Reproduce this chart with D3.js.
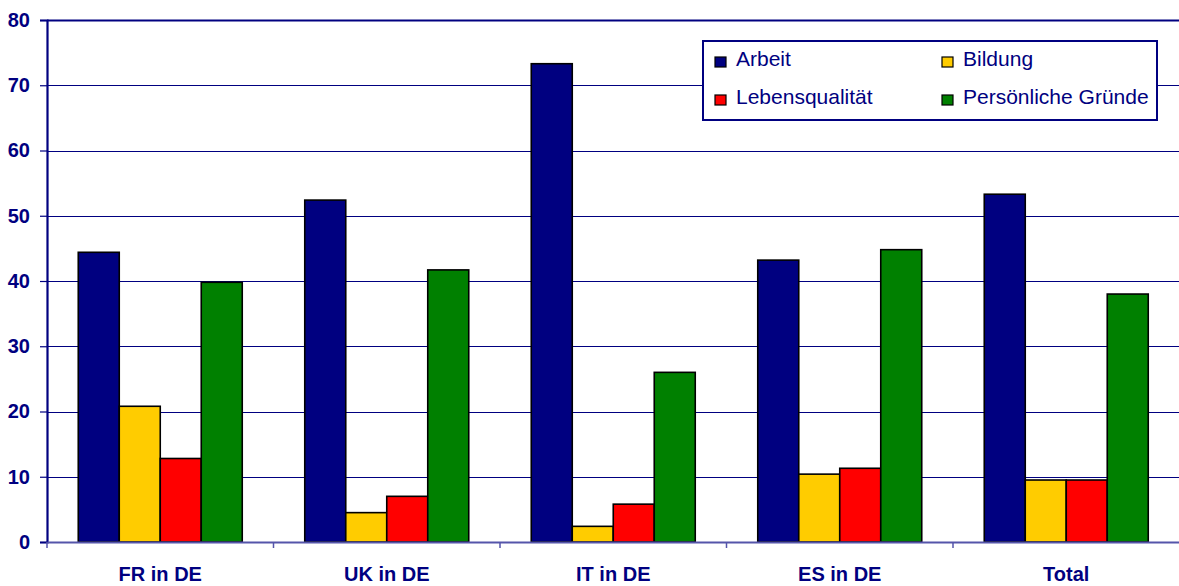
<!DOCTYPE html>
<html>
<head>
<meta charset="utf-8">
<script src="https://cdn.jsdelivr.net/npm/d3@7"></script>
<style>
  html, body { margin: 0; padding: 0; background: #fff; }
  svg { display: block; font-family: "Liberation Sans", Arial, sans-serif; }
</style>
</head>
<body>
<svg id="chart" width="1179" height="586"></svg>
<script>
const categories = ["FR in DE", "UK in DE", "IT in DE", "ES in DE", "Total"];
const seriesNames = ["Arbeit", "Bildung", "Lebensqualität", "Persönliche Gründe"];
const seriesColors = ["#000080", "#FFCC00", "#FF0000", "#008000"];
const arbeit = [44.4, 52.4, 73.3, 43.2, 53.3];
const bildung = [20.8, 4.5, 2.4, 10.4, 9.5];
const lebensqualitaet = [12.8, 7.0, 5.8, 11.3, 9.5];
const persoenlich = [39.8, 41.7, 26.0, 44.8, 38.0];
const yTicks = [0, 10, 20, 30, 40, 50, 60, 70, 80];

const seriesValues = [arbeit, bildung, lebensqualitaet, persoenlich];
const navy = "#000080";

const svg = d3.select("#chart");
const pLeft = 47, pRight = 1179.5, pTop = 20, pBottom = 542;

const y = d3.scaleLinear().domain([0, 80]).range([pBottom, pTop]);
const x = d3.scaleBand().domain(categories).range([pLeft, pRight]).paddingInner(0).paddingOuter(0);
const bw = x.bandwidth();
const groupW = bw * 0.724;
const x1 = d3.scaleBand().domain(seriesNames).range([(bw - groupW) / 2, (bw + groupW) / 2]).padding(0);

// gridlines
svg.append("g").selectAll("line").data(yTicks.filter(d => d > 0)).join("line")
  .attr("x1", pLeft).attr("x2", 1179)
  .attr("y1", d => Math.round(y(d)) + 0.5).attr("y2", d => Math.round(y(d)) + 0.5)
  .attr("stroke", navy).attr("stroke-width", d => d === 80 ? 2 : 1.2);

// bars
const rows = [];
categories.forEach((c, i) => seriesNames.forEach((s, j) => rows.push({ c, s, j, v: seriesValues[j][i] })));
svg.append("g").selectAll("rect").data(rows).join("rect")
  .attr("x", d => x(d.c) + x1(d.s))
  .attr("y", d => y(d.v))
  .attr("width", x1.bandwidth())
  .attr("height", d => y(0) - y(d.v))
  .attr("fill", d => seriesColors[d.j])
  .attr("stroke", "#000").attr("stroke-width", 1.6);

// y axis
const yAxis = d3.axisLeft(y).tickValues(yTicks).tickSize(7).tickPadding(10).tickFormat(d3.format("d"));
const gy = svg.append("g").attr("transform", `translate(${pLeft},0)`).call(yAxis);
gy.select(".domain").attr("stroke", navy).attr("stroke-width", 2.2);
gy.selectAll(".tick line").attr("stroke", navy).attr("stroke-width", 1.2);
gy.selectAll(".tick text").attr("fill", navy).attr("font-size", 20).attr("font-weight", "bold")
  .attr("font-family", "'Liberation Sans', Arial, sans-serif");

// x axis
const xAxis = d3.axisBottom(x).tickSize(0).tickPadding(0);
const gx = svg.append("g").attr("transform", `translate(0,${pBottom})`).call(xAxis);
gx.select(".domain").attr("stroke", "#5555aa").attr("stroke-width", 2.2);
gx.selectAll(".tick text").attr("fill", navy).attr("font-size", 20).attr("font-weight", "bold")
  .attr("font-family", "'Liberation Sans', Arial, sans-serif")
  .attr("dy", null).attr("y", 39);
// group boundary ticks
svg.append("g").selectAll("line").data(categories).join("line")
  .attr("x1", d => x(d)).attr("x2", d => x(d))
  .attr("y1", pBottom).attr("y2", pBottom + 6)
  .attr("stroke", "#5555aa").attr("stroke-width", 1.5);

// legend
const lg = svg.append("g");
lg.append("rect").attr("x", 703).attr("y", 41).attr("width", 454).attr("height", 79)
  .attr("fill", "#fff").attr("stroke", navy).attr("stroke-width", 2);
const legPos = [[715, 57], [942, 57], [715, 95], [942, 95]];
seriesNames.forEach((s, j) => {
  const [lx, ly] = legPos[j];
  lg.append("rect").attr("x", lx).attr("y", ly).attr("width", 11).attr("height", 10)
    .attr("fill", seriesColors[j]).attr("stroke", "#000").attr("stroke-width", 1.2);
  lg.append("text").attr("x", lx + 21).attr("y", ly + 9)
    .attr("fill", navy).attr("font-size", 21).text(s);
});
</script>
</body>
</html>
